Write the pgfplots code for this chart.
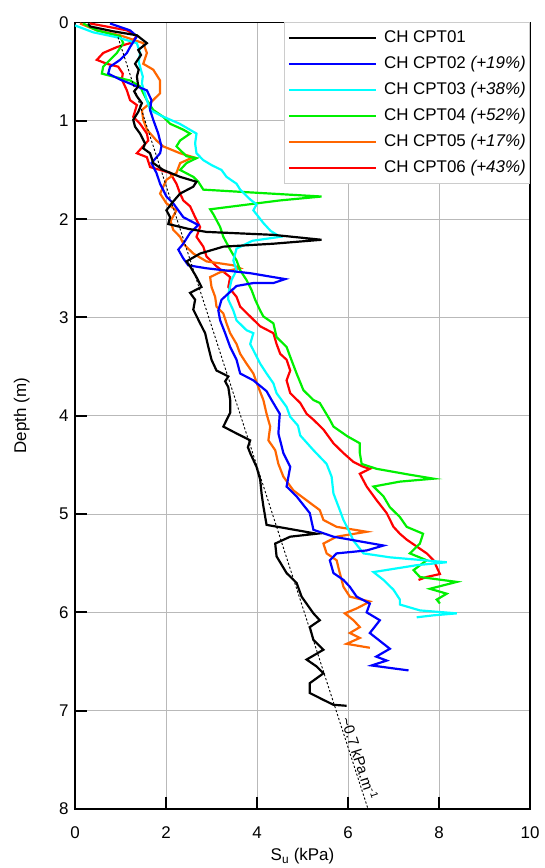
\documentclass[border=0pt]{standalone}
\usepackage{fontspec}
\setmainfont{Liberation Sans}
\usepackage{pgfplots}
\pgfplotsset{compat=1.18}
\definecolor{c1}{RGB}{0,0,0}
\definecolor{c2}{RGB}{0,0,255}
\definecolor{c3}{RGB}{0,255,255}
\definecolor{c4}{RGB}{0,240,0}
\definecolor{c5}{RGB}{255,102,0}
\definecolor{c6}{RGB}{255,0,0}
\begin{document}
\begin{tikzpicture}[font=\fontsize{17}{20}\selectfont]
\begin{axis}[name=ax, scale only axis, width=455bp, height=786.5bp,
  xmin=0, xmax=10, ymin=0, ymax=8, y dir=reverse,
  xtick={0,2,...,10}, ytick={0,1,...,8},
  grid=major, grid style={gray!55, line width=0.9pt},
  axis line style={line width=2pt},
  major tick style={line width=2pt, black}, major tick length=12bp, tick align=inside,
  xtick pos=left, xticklabel pos=left, ytick pos=left,
  /pgf/number format/assume math mode=true,
  xticklabel style={anchor=base, yshift=-29bp},
  yticklabel style={anchor=east, xshift=-3bp},
  xlabel={S\textsubscript{u} (kPa)},
  xlabel style={at={(axis description cs:0.5,-0.066)}, anchor=base},
  ylabel={Depth (m)},
  ylabel style={at={(axis description cs:-0.099,0.5)}, anchor=south, inner sep=0pt},
  reverse legend,
  legend style={at={(axis description cs:1,1)}, anchor=north east, draw=gray!40, line width=0.6pt, fill=white,
    font=\fontsize{17}{20}\selectfont, row sep=10bp, inner xsep=4bp, inner ysep=7bp,
    nodes={inner sep=0pt, text height=12.5bp, text depth=3.5bp},
    cells={anchor=west}},
  legend image code/.code={\draw[#1, line width=2.2pt] (0bp,0bp) -- (87bp,0bp); \path (94bp,0bp);},
  every axis plot/.append style={line width=2.2pt},
]
% CPT06 red
\addplot[c6, line width=2.2pt] coordinates {(0.33,0.01) (0.8,0.05) (1.14,0.08) (1.36,0.14) (1.21,0.21) (0.92,0.25) (0.62,0.31) (0.48,0.38) (0.70,0.42) (0.95,0.45) (1.05,0.52) (1.03,0.58) (1.14,0.69) (1.21,0.79) (1.36,0.84) (1.28,0.96) (1.43,1.03) (1.58,1.13) (1.61,1.20) (1.36,1.33) (1.58,1.37) (1.65,1.47) (2.09,1.53) (2.23,1.64) (2.31,1.74) (2.38,1.81) (2.53,1.87) (2.64,1.98) (2.75,2.08) (2.67,2.18) (2.82,2.28) (2.89,2.38) (3.11,2.48) (3.41,2.59) (3.37,2.69) (3.55,2.79) (3.63,2.89) (3.85,2.99) (4.07,3.09) (4.36,3.16) (4.43,3.27) (4.51,3.37) (4.65,3.43) (4.73,3.54) (4.65,3.64) (4.73,3.77) (4.95,3.87) (5.09,3.98) (5.24,4.04) (5.46,4.14) (5.68,4.28) (5.90,4.38) (6.12,4.47) (6.34,4.52) (6.48,4.54) (6.26,4.59) (6.41,4.72) (6.63,4.86) (6.85,4.99) (7.00,5.13) (7.14,5.20) (7.29,5.26) (7.51,5.33) (7.73,5.40) (7.88,5.47) (7.95,5.54) (8.02,5.61) (7.73,5.64) (7.55,5.67)};
\addlegendentry{CH CPT06 \textit{(+43\%)}}
% CPT05 orange
\addplot[c5, line width=2.2pt] coordinates {(0.11,0.01) (0.48,0.08) (0.99,0.13) (1.50,0.21) (1.58,0.31) (1.50,0.42) (1.72,0.48) (1.87,0.59) (1.87,0.72) (1.65,0.82) (1.47,0.89) (1.50,0.99) (1.58,1.09) (1.79,1.20) (1.94,1.26) (2.31,1.33) (2.60,1.37) (2.31,1.43) (2.23,1.53) (2.01,1.60) (1.94,1.67) (1.87,1.74) (2.01,1.84) (2.23,1.91) (2.10,2.02) (2.16,2.11) (2.31,2.18) (2.38,2.25) (2.60,2.35) (2.89,2.43) (3.48,2.47) (3.63,2.50) (3.19,2.54) (2.97,2.59) (3.00,2.69) (3.08,2.79) (3.11,2.89) (3.26,2.96) (3.33,3.06) (3.41,3.16) (3.55,3.27) (3.63,3.37) (3.77,3.47) (3.92,3.57) (4.03,3.71) (4.14,3.84) (4.21,3.98) (4.29,4.11) (4.25,4.25) (4.40,4.35) (4.47,4.49) (4.58,4.62) (4.80,4.76) (5.09,4.86) (5.38,4.96) (5.46,5.06) (5.75,5.13) (6.41,5.18) (5.75,5.23) (5.46,5.30) (5.53,5.40) (5.75,5.47) (5.82,5.60) (5.90,5.74) (6.04,5.84) (6.48,5.89) (6.19,5.96) (5.93,6.01) (6.12,6.08) (6.26,6.15) (6.04,6.21) (6.26,6.26) (5.97,6.32) (6.48,6.36)};
\addlegendentry{CH CPT05 \textit{(+17\%)}}
% CPT04 green
\addplot[c4, line width=2.2pt] coordinates {(0.18,0.01) (0.48,0.08) (0.99,0.14) (1.06,0.21) (0.92,0.31) (0.77,0.38) (0.62,0.45) (0.59,0.52) (0.84,0.55) (1.21,0.59) (1.43,0.65) (1.58,0.79) (1.72,0.89) (1.94,0.96) (2.09,1.03) (2.38,1.09) (2.53,1.13) (2.31,1.20) (2.23,1.26) (2.45,1.36) (2.67,1.38) (2.45,1.43) (2.31,1.50) (2.60,1.57) (2.71,1.62) (2.82,1.70) (3.55,1.72) (5.42,1.77) (4.50,1.81) (2.97,1.90) (3.04,1.95) (3.11,2.01) (3.19,2.08) (3.26,2.18) (3.41,2.31) (3.55,2.42) (3.63,2.52) (3.77,2.62) (3.88,2.72) (3.96,2.82) (4.07,2.93) (4.14,2.99) (4.36,3.06) (4.43,3.20) (4.65,3.30) (4.73,3.40) (4.87,3.57) (5.02,3.74) (5.24,3.84) (5.38,3.87) (5.60,4.04) (5.68,4.11) (5.99,4.21) (6.26,4.28) (6.26,4.38) (6.30,4.49) (6.63,4.54) (7.36,4.60) (7.88,4.64) (7.14,4.67) (6.56,4.72) (6.78,4.82) (6.92,4.93) (7.14,5.03) (7.29,5.13) (7.65,5.20) (7.58,5.30) (7.36,5.40) (7.73,5.47) (7.44,5.57) (7.58,5.64) (8.39,5.69) (7.80,5.76) (8.17,5.81) (7.95,5.87) (8.02,5.91)};
\addlegendentry{CH CPT04 \textit{(+52\%)}}
% CPT03 cyan
\addplot[c3, line width=2.2pt] coordinates {(0.00,0.03) (0.40,0.10) (0.92,0.15) (1.36,0.21) (1.43,0.31) (1.40,0.40) (1.49,0.55) (1.47,0.62) (1.58,0.79) (1.65,0.89) (1.90,0.95) (2.30,1.03) (2.67,1.13) (2.64,1.23) (2.67,1.33) (2.82,1.40) (3.00,1.45) (3.22,1.50) (3.33,1.57) (3.55,1.64) (3.63,1.70) (3.85,1.80) (3.99,1.85) (3.92,1.91) (4.14,2.04) (4.30,2.12) (4.51,2.18) (3.90,2.22) (3.55,2.30) (3.48,2.42) (3.55,2.52) (3.44,2.62) (3.37,2.76) (3.37,2.82) (3.48,2.93) (3.55,3.03) (3.77,3.13) (3.92,3.16) (3.85,3.27) (3.96,3.37) (4.07,3.47) (4.21,3.57) (4.36,3.67) (4.43,3.77) (4.65,3.91) (4.73,4.01) (4.90,4.10) (4.95,4.20) (5.24,4.35) (5.53,4.49) (5.64,4.62) (5.68,4.79) (5.82,4.96) (5.90,5.06) (6.01,5.16) (6.12,5.27) (6.34,5.40) (6.92,5.44) (8.17,5.49) (7.51,5.52) (6.56,5.59) (6.78,5.67) (7.00,5.77) (7.14,5.87) (7.14,5.92) (7.58,5.98) (8.39,6.01) (7.88,6.03) (7.51,6.05)};
\addlegendentry{CH CPT03 \textit{(+38\%)}}
% CPT02 blue
\addplot[c2, line width=2.2pt] coordinates {(0.77,0.01) (1.21,0.08) (1.36,0.14) (1.21,0.25) (1.14,0.31) (0.99,0.38) (0.77,0.45) (0.73,0.52) (0.99,0.58) (1.36,0.65) (1.58,0.69) (1.68,0.79) (1.65,0.89) (1.72,0.99) (1.83,1.13) (1.90,1.26) (1.87,1.33) (1.68,1.43) (1.79,1.53) (1.87,1.64) (2.01,1.77) (2.16,1.84) (2.38,1.98) (2.71,2.06) (2.53,2.14) (2.38,2.25) (2.27,2.31) (2.38,2.40) (2.49,2.47) (2.89,2.50) (3.85,2.55) (4.62,2.61) (4.36,2.65) (3.92,2.65) (3.55,2.68) (3.41,2.74) (3.22,2.82) (3.15,2.93) (3.19,3.03) (3.30,3.16) (3.41,3.30) (3.55,3.43) (3.63,3.57) (3.92,3.64) (4.21,3.75) (4.32,3.84) (4.50,3.98) (4.47,4.18) (4.58,4.38) (4.73,4.52) (4.65,4.72) (4.87,4.82) (5.16,4.99) (5.24,5.16) (5.68,5.23) (6.78,5.32) (6.41,5.37) (5.75,5.40) (5.60,5.47) (5.68,5.60) (5.90,5.67) (6.04,5.74) (6.19,5.84) (6.48,5.91) (6.41,6.00) (6.70,6.08) (6.48,6.21) (6.92,6.37) (6.62,6.45) (6.85,6.49) (6.52,6.54) (7.00,6.57) (7.33,6.59)};
\addlegendentry{CH CPT02 \textit{(+19\%)}}
% CPT01 black
\addplot[c1, line width=2.2pt] coordinates {(0.29,0.01) (0.33,0.04) (0.84,0.09) (1.36,0.13) (1.58,0.21) (1.39,0.28) (1.45,0.33) (1.32,0.42) (1.40,0.48) (1.36,0.55) (1.39,0.65) (1.30,0.70) (1.36,0.75) (1.47,0.82) (1.39,0.91) (1.28,0.99) (1.32,1.06) (1.43,1.13) (1.54,1.23) (1.50,1.28) (1.65,1.33) (1.72,1.43) (1.94,1.50) (2.31,1.57) (2.67,1.62) (2.60,1.67) (2.31,1.74) (2.16,1.82) (2.01,1.91) (2.09,1.98) (2.05,2.05) (2.50,2.10) (2.89,2.13) (4.36,2.16) (5.42,2.21) (4.36,2.25) (3.26,2.28) (2.75,2.35) (2.45,2.43) (2.53,2.48) (2.67,2.59) (2.78,2.69) (2.53,2.75) (2.64,2.82) (2.60,2.92) (2.75,3.06) (2.86,3.16) (2.93,3.30) (3.00,3.43) (3.11,3.54) (3.37,3.60) (3.30,3.65) (3.37,3.71) (3.41,3.84) (3.41,3.97) (3.26,4.11) (3.55,4.18) (3.85,4.25) (3.80,4.32) (3.85,4.38) (3.99,4.52) (4.07,4.65) (4.10,4.79) (4.14,4.92) (4.21,5.11) (4.58,5.14) (5.31,5.20) (4.73,5.23) (4.40,5.30) (4.43,5.43) (4.65,5.60) (4.87,5.70) (4.98,5.84) (5.24,6.01) (5.38,6.08) (5.16,6.15) (5.24,6.28) (5.46,6.38) (5.09,6.48) (5.31,6.55) (5.46,6.62) (5.16,6.72) (5.16,6.82) (5.46,6.89) (5.68,6.94) (5.97,6.95)};
\addlegendentry{CH CPT01}
% trend line
\addplot[black, dotted, line width=0.9pt, forget plot] coordinates {(0.945,0.15) (6.44,8)};
\node[rotate=-72, anchor=south west, font=\fontsize{15}{18}\selectfont, inner sep=1bp] at (axis cs:5.80,7.08) {\textasciitilde0.7 kPa.m\textsuperscript{-1}};
\end{axis}
\pgfresetboundingbox
\path ([xshift=-75bp,yshift=-59bp]ax.south west) rectangle ([xshift=14bp,yshift=22.5bp]ax.north east);
\end{tikzpicture}
\end{document}
